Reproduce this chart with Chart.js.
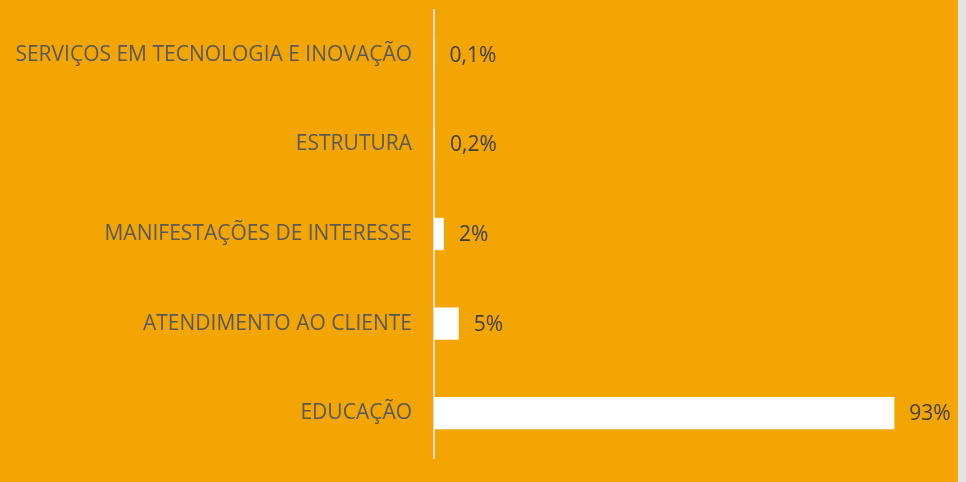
<!DOCTYPE html>
<html>
<head>
<meta charset="utf-8">
<script src="https://cdn.jsdelivr.net/npm/chart.js@4/dist/chart.umd.min.js"></script>
<style>
  html, body { margin: 0; padding: 0; background: #e4e4e4; }
  #wrap { width: 958px; height: 482px; background: #F3A504; }
  canvas { display: block; }
</style>
</head>
<body>
<div id="wrap"><canvas id="chart" width="958" height="482"></canvas></div>
<script>
// categorias (de cima para baixo) e percentuais
const categorias = [
    "SERVIÇOS EM TECNOLOGIA E INOVAÇÃO",
    "ESTRUTURA",
    "MANIFESTAÇÕES DE INTERESSE",
    "ATENDIMENTO AO CLIENTE",
    "EDUCAÇÃO"
];
const valores = [0.1, 0.2, 2, 5, 93];
const rotulos = ["0,1%", "0,2%", "2%", "5%", "93%"];

// desenha os rótulos de valor na ponta de cada barra
const rotuloPlugin = {
    id: "rotulos",
    afterDatasetsDraw(chart) {
        const ctx = chart.ctx;
        const meta = chart.getDatasetMeta(0);
        ctx.save();
        ctx.font = "21px 'Open Sans'";
        ctx.fillStyle = "#404040";
        ctx.textBaseline = "middle";
        ctx.textAlign = "left";
        meta.data.forEach((bar, i) => {
            ctx.fillText(rotulos[i], bar.x + 15, bar.y + 1);
        });
        ctx.restore();
    }
};

const ctx = document.getElementById("chart").getContext("2d");
new Chart(ctx, {
    type: "bar",
    data: {
        labels: categorias,
        datasets: [{
            data: valores,
            backgroundColor: "#ffffff",
            borderWidth: 0,
            categoryPercentage: 1,
            barPercentage: 0.36
        }]
    },
    options: {
        indexAxis: "y",
        responsive: false,
        animation: false,
        layout: { padding: { top: 10, bottom: 24, right: 29, left: 0 } },
        plugins: { legend: false, tooltip: false },
        scales: {
            x: {
                display: false,
                min: 0,
                max: 100
            },
            y: {
                grid: { display: false, drawTicks: false },
                border: { color: "#D9D9D9", width: 2 },
                ticks: {
                    color: "#595959",
                    font: { family: "'Open Sans'", size: 21 },
                    padding: 22
                },
                afterFit(scale) {
                    scale.width = 434;
                    scale.paddingTop = 0;
                    scale.paddingBottom = 0;
                }
            }
        }
    },
    plugins: [rotuloPlugin]
});
</script>
</body>
</html>
